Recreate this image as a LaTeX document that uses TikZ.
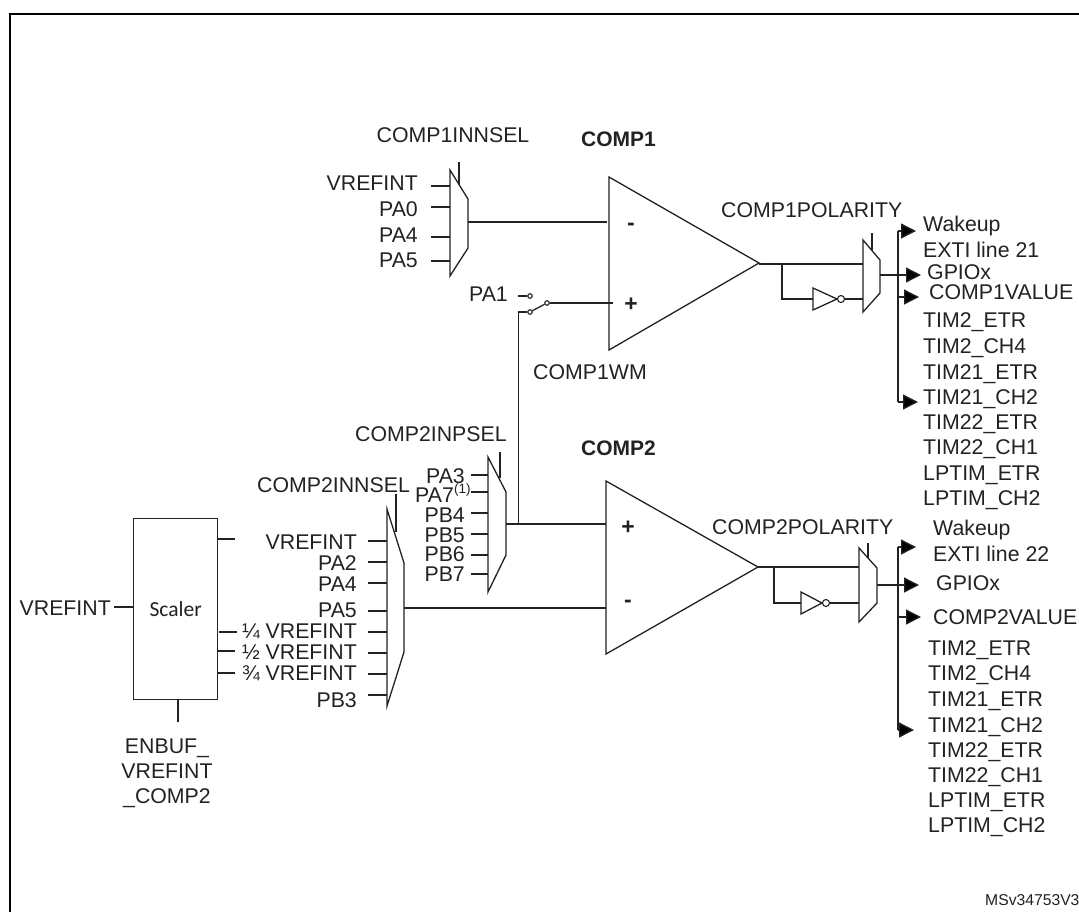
\documentclass[tikz,border=0pt]{standalone}
\usepackage{fontspec}
\setmainfont{Liberation Sans}
\newfontfamily\scalerfont{Carlito}
\usetikzlibrary{arrows.meta}
\definecolor{ink}{HTML}{222222}
\tikzset{
  wire/.style={draw=ink,line width=1.3pt},
  bigarrow/.style={wire,-{Triangle[length=15pt,width=15pt,fill=black]}},
  shapeline/.style={draw=ink,line width=1.3pt,line join=miter},
  lbl/.style={inner sep=0pt,text=ink,font=\fontsize{21.3}{24}\selectfont,text height=15pt,text depth=0pt},
  lw/.style={lbl,anchor=west},
  le/.style={lbl,anchor=east},
  lc/.style={lbl,anchor=center},
  boldlbl/.style={lw,font=\bfseries\fontsize{21}{24}\selectfont},
  sign/.style={lc,font=\bfseries\fontsize{23}{24}\selectfont},
  contact/.style={circle,draw=ink,line width=1.1pt,fill=white,inner sep=0pt,minimum size=4.5pt},
  bubble/.style={circle,draw=ink,line width=1.1pt,fill=white,inner sep=0pt,minimum size=7pt}
}
\begin{document}
\begin{tikzpicture}[x=1pt,y=-1pt]
\useasboundingbox (0,0) rectangle (1079,911);
\clip (0,0) rectangle (1079,911);
\fill[white] (0,0) rectangle (1079,911);
% frame
\draw[black,line width=2.4pt] (10,930) -- (10,14) -- (1100,14);

% comparators
\coordinate (c1a) at (609,177); \coordinate (c1b) at (609,350); \coordinate (c1t) at (759,263);
\coordinate (c2a) at (606,481); \coordinate (c2b) at (606,654); \coordinate (c2t) at (758,567);
\draw[shapeline] (c1a) -- (c1t) -- (c1b) -- cycle;
\draw[shapeline] (c2a) -- (c2t) -- (c2b) -- cycle;
\node[sign] (c1minus) at (631,223) {-};
\node[sign] (c1plus) at (631,304) {+};
\node[sign] (c2plus) at (628,527) {+};
\node[sign] (c2minus) at (628,600) {-};
\node[boldlbl] (c1name) at (581,139) {COMP1};
\node[boldlbl] (c2name) at (581,448) {COMP2};

% COMP1 input mux
\coordinate (m1a) at (450,170); \coordinate (m1b) at (468,199); \coordinate (m1c) at (468,248); \coordinate (m1d) at (450,276);
\draw[shapeline] (m1a) -- (m1b) -- (m1c) -- (m1d) -- cycle;
\coordinate (m1sa) at (459,162); \coordinate (m1sb) at (459,185);
\draw[wire] (m1sa) -- (m1sb);
\coordinate (m1o) at (468,222); \coordinate (c1in) at (607,222);
\draw[wire] (m1o) -- (c1in);
\node[lc] (m1title) at (453,135) {COMP1INNSEL};
\foreach \n/\t/\ly/\wy in {1/VREFINT/183/186,2/PA0/209/207,3/PA4/235/237,4/PA5/260/261}{
  \node[le] (m1l\n) at (418,\ly) {\t};
  \coordinate (m1s\n) at (431,\wy); \coordinate (m1e\n) at (450,\wy);
  \draw[wire] (m1s\n) -- (m1e\n);
}

% switch
\node[le] (pa1) at (508,294) {PA1};
\coordinate (pa1s) at (518,296);
\node[contact] (sw1) at (530,296) {};
\node[contact] (sw2) at (530,312) {};
\node[contact] (sw3) at (547,303) {};
\draw[wire] (pa1s) -- (sw1);
\draw[wire] (sw2) -- (sw3);
\coordinate (c1pin) at (613,303);
\draw[wire] (sw3) -- (c1pin);
\node[lw] (wm) at (533,372) {COMP1WM};

% COMP2 + mux
\coordinate (m2a) at (488,457); \coordinate (m2b) at (506,492); \coordinate (m2c) at (506,555); \coordinate (m2d) at (488,592);
\draw[shapeline] (m2a) -- (m2b) -- (m2c) -- (m2d) -- cycle;
\coordinate (m2sa) at (500,452); \coordinate (m2sb) at (500,478);
\draw[wire] (m2sa) -- (m2sb);
\coordinate (m2o) at (506,524); \coordinate (c2pin) at (606,524); \coordinate (j1) at (518.5,524); \coordinate (j2) at (518.5,312);
\draw[wire] (m2o) -- (c2pin);
\draw[wire] (j1) -- (j2) -- (sw2);
\node[lw] (m2title) at (355,434) {COMP2INPSEL};
\foreach \n/\t/\ly/\wy in {1/PA3/476/475,3/PB4/515/513,4/PB5/535/534,5/PB6/554/555,6/PB7/574/574}{
  \node[le] (m2l\n) at (465,\ly) {\t};
}
\node[lw] (m2l2) at (415,495) {PA7};
\node[lw,font=\fontsize{13.5}{14}\selectfont,text height=10pt] (m2l2s) at (454,488) {(1)};
\foreach \n/\wy in {1/475,2/492,3/513,4/534,5/555,6/574}{
  \coordinate (m2s\n) at (471,\wy); \coordinate (m2e\n) at (488,\wy);
  \draw[wire] (m2s\n) -- (m2e\n);
}

% COMP2 - mux
\coordinate (m3a) at (387,509); \coordinate (m3b) at (404,563); \coordinate (m3c) at (404,652); \coordinate (m3d) at (387,706);
\draw[shapeline] (m3a) -- (m3b) -- (m3c) -- (m3d) -- cycle;
\coordinate (m3sa) at (396,494); \coordinate (m3sb) at (396,532);
\draw[wire] (m3sa) -- (m3sb);
\coordinate (m3o) at (404,608); \coordinate (c2nin) at (606,608);
\draw[wire] (m3o) -- (c2nin);
\node[lw] (m3title) at (257,485) {COMP2INNSEL};
\foreach \n/\t/\ly/\wy in {1/VREFINT/542/541,2/PA2/563/562,3/PA4/584/583,4/PA5/610/611,5/¼ VREFINT/631/632,6/½ VREFINT/652/653,7/¾ VREFINT/673/674,8/PB3/700/695}{
  \node[le] (m3l\n) at (357,\ly) {\t};
  \coordinate (m3s\n) at (368,\wy); \coordinate (m3e\n) at (387,\wy);
  \draw[wire] (m3s\n) -- (m3e\n);
}

% scaler
\node[draw=ink,line width=1.3pt,minimum width=84pt,minimum height=181pt,inner sep=0pt,anchor=north west,font=\scalerfont\fontsize{21.5}{24}\selectfont,text=ink] (scaler) at (133,518) {Scaler};
\node[le] (vr) at (111,608) {VREFINT};
\coordinate (vrs) at (114,607);
\draw[wire] (vrs) -- (vrs-|scaler.west);
\foreach \n/\y/\xa/\xb in {a/539/217/235,b/632/219/237,c/651/217/235,d/673/217/235}{
  \coordinate (so\n) at (\xa,\y); \coordinate (st\n) at (\xb,\y);
  \draw[wire] (so\n) -- (st\n);
}
\coordinate (enb) at (178,722);
\draw[wire] (enb|-scaler.south) -- (enb);
\node[lc] (en1) at (167,746) {ENBUF\_};
\node[lc] (en2) at (167,771) {VREFINT};
\node[lc] (en3) at (167,796) {\_COMP2};

% COMP1 polarity
\coordinate (p1a) at (863,240); \coordinate (p1b) at (880,260); \coordinate (p1c) at (880,293); \coordinate (p1d) at (863,312);
\draw[shapeline] (p1a) -- (p1b) -- (p1c) -- (p1d) -- cycle;
\coordinate (p1sa) at (872,233); \coordinate (p1sb) at (872,250);
\draw[wire] (p1sa) -- (p1sb);
\coordinate (p1i) at (863,264); \coordinate (c1o) at (759,264);
\draw[wire] (c1o) -- (p1i);
\coordinate (b1a) at (782,264); \coordinate (b1b) at (782,299);
\coordinate (i1a) at (813,288); \coordinate (i1b) at (813,310); \coordinate (i1l) at (813,299); \coordinate (i1t) at (837,299);
\draw[wire] (b1a) -- (b1b) -- (i1l);
\draw[shapeline] (i1a) -- (i1t) -- (i1b) -- cycle;
\node[bubble] (i1c) at (841,299) {};
\coordinate (p1j) at (863,299);
\draw[wire] (i1c) -- (p1j);
\coordinate (p1o) at (880,275); \coordinate (p1t) at (921,275);
\draw[bigarrow] (p1o) -- (p1t);
\coordinate (bus1a) at (898,231); \coordinate (bus1b) at (898,402); \coordinate (bus1m) at (898,297);
\coordinate (a1t) at (916,231); \coordinate (a1m) at (919,297); \coordinate (a1b) at (918,402);
\draw[bigarrow] (bus1a) -- (a1t);
\draw[wire] (bus1a) -- (bus1b);
\draw[bigarrow] (bus1m) -- (a1m);
\draw[bigarrow] (bus1b) -- (a1b);
\node[lw] (p1title) at (721,210) {COMP1POLARITY};
\node[lw] (o1a) at (923,224) {Wakeup};
\node[lw] (o1b) at (923,250) {EXTI line 21};
\node[lw] (o1c) at (927,272) {GPIOx};
\node[lw] (o1d) at (929,292) {COMP1VALUE};
\foreach \n/\t/\y in {e/TIM2\_ETR/320,f/TIM2\_CH4/346,g/TIM21\_ETR/372,h/TIM21\_CH2/397,i/TIM22\_ETR/422,j/TIM22\_CH1/447,k/LPTIM\_ETR/473,l/LPTIM\_CH2/498}{
  \node[lw] (o1\n) at (923,\y) {\t};
}

% COMP2 polarity
\coordinate (p2a) at (859,548); \coordinate (p2b) at (877,568); \coordinate (p2c) at (877,603); \coordinate (p2d) at (859,622);
\draw[shapeline] (p2a) -- (p2b) -- (p2c) -- (p2d) -- cycle;
\coordinate (p2sa) at (868,543); \coordinate (p2sb) at (868,558);
\draw[wire] (p2sa) -- (p2sb);
\coordinate (p2i) at (859,567); \coordinate (c2o) at (758,567);
\draw[wire] (c2o) -- (p2i);
\coordinate (b2a) at (774,567); \coordinate (b2b) at (774,603);
\coordinate (i2a) at (801,592); \coordinate (i2b) at (801,614); \coordinate (i2l) at (801,603); \coordinate (i2t) at (822,603);
\draw[wire] (b2a) -- (b2b) -- (i2l);
\draw[shapeline] (i2a) -- (i2t) -- (i2b) -- cycle;
\node[bubble] (i2c) at (826,603) {};
\coordinate (p2j) at (859,603);
\draw[wire] (i2c) -- (p2j);
\coordinate (p2o) at (877,585); \coordinate (p2t) at (919,585);
\draw[bigarrow] (p2o) -- (p2t);
\coordinate (bus2a) at (898,547); \coordinate (bus2b) at (898,730); \coordinate (bus2m) at (898,617);
\coordinate (a2t) at (916,547); \coordinate (a2m) at (921,617); \coordinate (a2b) at (914,730);
\draw[bigarrow] (bus2a) -- (a2t);
\draw[wire] (bus2a) -- (bus2b);
\draw[bigarrow] (bus2m) -- (a2m);
\draw[bigarrow] (bus2b) -- (a2b);
\node[lw] (p2title) at (712,527) {COMP2POLARITY};
\node[lw] (o2a) at (933,528) {Wakeup};
\node[lw] (o2b) at (933,554) {EXTI line 22};
\node[lw] (o2c) at (936,583) {GPIOx};
\node[lw] (o2d) at (933,617) {COMP2VALUE};
\foreach \n/\t/\y in {e/TIM2\_ETR/648,f/TIM2\_CH4/673,g/TIM21\_ETR/699,h/TIM21\_CH2/725,i/TIM22\_ETR/750,j/TIM22\_CH1/775,k/LPTIM\_ETR/800,l/LPTIM\_CH2/825}{
  \node[lw] (o2\n) at (928,\y) {\t};
}

\node[lw,font=\fontsize{15.7}{16}\selectfont,text height=11.5pt] (ref) at (985,900) {MSv34753V3};
\end{tikzpicture}
\end{document}
